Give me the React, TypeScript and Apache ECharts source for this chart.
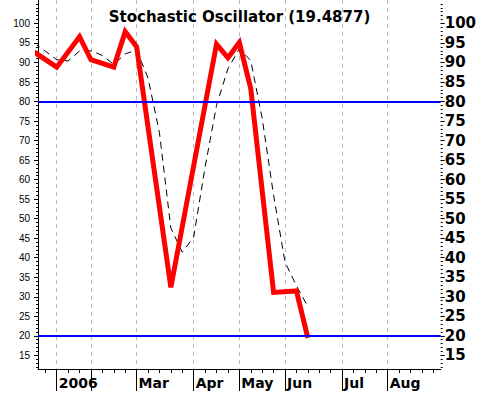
import React, { useEffect, useRef } from 'react';
import * as echarts from 'echarts';

// Weekly positions (week 0 = first 2006 week shown)
const monthLabels = ['2006', '', 'Mar', 'Apr', 'May', 'Jun', 'Jul', 'Aug'];
const monthWeeks = [0, 3, 7, 12, 16, 20, 25, 29];

// %K (red, thick) vertices
const kWeeks = [-2, 0, 2, 3, 5, 6, 7, 10, 14, 15, 16, 17, 19, 21, 22];
const kValues = [92.7, 88.8, 96.6, 90.7, 88.8, 97.9, 94.0, 32.4, 94.7, 91.2, 95.1, 83.3, 31.1, 31.5, 19.4877];

// %D (black, dashed) weekly values
const dWeeks = [-2, -1, 0, 1, 2, 3, 4, 5, 6, 7, 8, 9, 10, 11, 12, 13, 14, 15, 16, 17, 18, 19, 20, 21, 22];
const dValues = [95.0, 92.9, 90.7, 90.4, 92.9, 93.0, 91.8, 89.5, 92.2, 93.2, 86.0, 72.0, 47.6, 41.4, 45.3, 63.2, 79.0, 88.4, 93.5, 90.5, 75.7, 56.0, 38.9, 32.8, 27.5];

// Reference levels
const levels = [80, 20];

// Y tick labels
const yLabels = [15, 20, 25, 30, 35, 40, 45, 50, 55, 60, 65, 70, 75, 80, 85, 90, 95, 100];

const X_MIN = -1.64;
const X_MAX = 33.64;
const Y_MIN = 11.5;
const Y_MAX = 106;

const weekTicks: number[] = [];
for (let w = -1; w <= 33; w++) weekTicks.push(w);
const yMinor: number[] = [];
for (let v = 12; v <= 105; v++) yMinor.push(v);

export default function App() {
  const ref = useRef<HTMLDivElement>(null);
  useEffect(() => {
    if (!ref.current) return;
    const chart = echarts.init(ref.current, null, { renderer: 'svg' });
    const black = '#000';
    const boldFont = 'DejaVu Sans';
    const option: any = {
      animation: false,
      backgroundColor: '#fff',
      title: {
        text: `Stochastic Oscillator (${kValues[kValues.length - 1]})`,
        left: 'center',
        top: 4,
        textStyle: { fontFamily: boldFont, fontWeight: 'bold', fontSize: 15, color: black },
      },
      grid: { left: 38, right: 38, top: 0, bottom: 25 },
      xAxis: [
        {
          type: 'value', min: X_MIN, max: X_MAX, position: 'bottom',
          axisLine: { show: true, onZero: false, lineStyle: { color: black, width: 1 } },
          axisTick: { show: true, customValues: weekTicks, length: 4, lineStyle: { color: black } },
          axisLabel: { show: false },
          splitLine: { show: false },
        },
        {
          type: 'value', min: X_MIN, max: X_MAX, position: 'bottom',
          axisLine: { show: false, onZero: false },
          axisTick: { show: true, customValues: monthWeeks, length: 22, lineStyle: { color: black } },
          axisLabel: {
            show: true, customValues: monthWeeks,
            formatter: (v: number) => monthLabels[monthWeeks.indexOf(v)] ?? '',
            align: 'left', margin: 7, padding: [0, 0, 0, 2],
            fontFamily: boldFont, fontWeight: 'bold', fontSize: 14, color: black,
          },
          splitLine: { show: true, lineStyle: { color: '#bdbdbd', width: 1, type: [4, 4] } },
        },
      ],
      yAxis: [
        {
          type: 'value', min: Y_MIN, max: Y_MAX, position: 'left',
          axisLine: { show: true, onZero: false, lineStyle: { color: black, width: 1 } },
          axisTick: { show: true, customValues: yLabels, length: 4, lineStyle: { color: black } },
          axisLabel: { show: true, customValues: yLabels, margin: 8, fontFamily: 'Liberation Sans', fontSize: 10, color: black },
          splitLine: { show: false },
        },
        {
          type: 'value', min: Y_MIN, max: Y_MAX, position: 'left',
          axisLine: { show: false, onZero: false },
          axisTick: { show: true, customValues: yMinor, length: 2, lineStyle: { color: black } },
          axisLabel: { show: false },
          splitLine: { show: false },
        },
        {
          type: 'value', min: Y_MIN, max: Y_MAX, position: 'right',
          axisLine: { show: false, onZero: false },
          axisTick: { show: true, customValues: yLabels, length: 4, lineStyle: { color: black } },
          axisLabel: { show: true, customValues: yLabels, margin: 4, fontFamily: boldFont, fontWeight: 'bold', fontSize: 15, color: black },
          splitLine: { show: false },
        },
        {
          type: 'value', min: Y_MIN, max: Y_MAX, position: 'right',
          axisLine: { show: false, onZero: false },
          axisTick: { show: true, customValues: yMinor, length: 2, lineStyle: { color: black } },
          axisLabel: { show: false },
          splitLine: { show: false },
        },
      ],
      series: [
        {
          type: 'line', name: '%D', xAxisIndex: 0, yAxisIndex: 0,
          data: dWeeks.map((w, i) => [w, dValues[i]]),
          symbol: 'none', clip: true, z: 2,
          lineStyle: { color: black, width: 1, type: [7, 5] },
        },
        {
          type: 'line', name: '%K', xAxisIndex: 0, yAxisIndex: 0,
          data: kWeeks.map((w, i) => [w, kValues[i]]),
          symbol: 'none', clip: true, z: 3,
          lineStyle: { color: '#ff0000', width: 5, join: 'miter' },
          markLine: {
            silent: true, symbol: ['none', 'none'], z: 5,
            label: { show: false },
            lineStyle: { color: '#0000ff', width: 2, type: 'solid' },
            data: levels.map((v) => ({ yAxis: v })),
          },
        },
      ],
    };
    chart.setOption(option);
    return () => chart.dispose();
  }, []);
  return <div ref={ref} style={{ position: 'absolute', left: 0, top: 0, width: 479, height: 394 }} />;
}
